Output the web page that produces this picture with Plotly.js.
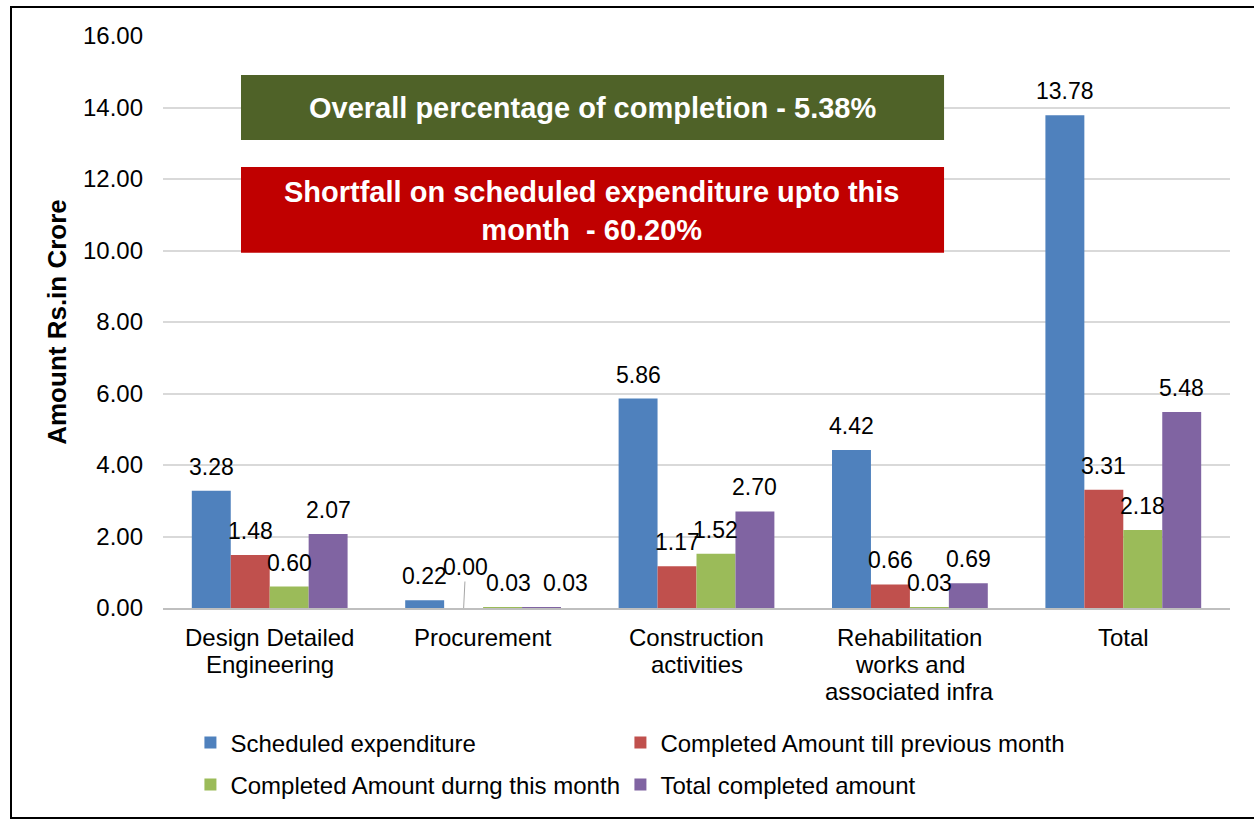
<!DOCTYPE html>
<html>
<head>
<meta charset="utf-8">
<script src="https://cdn.plot.ly/plotly-3.0.1.min.js"></script>
<style>
  html, body { margin: 0; padding: 0; background: #ffffff; overflow: hidden; }
  #wrap { position: relative; width: 1254px; height: 820px; overflow: hidden; }
  #chart { position: absolute; left: 0; top: 0; width: 1254px; height: 820px; }
  #frame { position: absolute; left: 10px; top: 6px; width: 1300px; height: 809px;
           border: 2px solid #000; pointer-events: none; }
</style>
</head>
<body>
<div id="wrap">
  <div id="chart"></div>
  <div id="frame"></div>
</div>
<script>
// ---------------- data ----------------
const categories = [
  'Design Detailed<br>Engineering',
  'Procurement',
  'Construction<br>activities',
  'Rehabilitation<br>works and<br>associated infra',
  'Total'
];
const seriesNames = [
  'Scheduled expenditure',
  'Completed Amount till previous month',
  'Completed Amount durng this month',
  'Total completed amount'
];
const scheduledExpenditure = [3.28, 0.22, 5.86, 4.42, 13.78];
const completedPrevMonth   = [1.48, 0.00, 1.17, 0.66, 3.31];
const completedThisMonth   = [0.60, 0.03, 1.52, 0.03, 2.18];
const totalCompleted       = [2.07, 0.03, 2.70, 0.69, 5.48];
const yTickValues = [0, 2, 4, 6, 8, 10, 12, 14, 16];
const bannerOverall = 'Overall percentage of completion - 5.38%';
const bannerShortfall = 'Shortfall on scheduled expenditure upto this<br>month  - 60.20%';
const yAxisTitle = 'Amount Rs.in Crore';

// ---------------- styles ----------------
const FONT = '"Liberation Sans", Arial, Helvetica, sans-serif';
const colors = ['#4F81BD', '#C0504D', '#9BBB59', '#8064A2'];
const allSeries = [scheduledExpenditure, completedPrevMonth, completedThisMonth, totalCompleted];
const legendIds = ['legend', 'legend2', 'legend3', 'legend4'];
const bargap = 0.27;
const barW = (1 - bargap) / allSeries.length;
// manual nudges of individual data labels (px), keyed "series,category"
const labelNudgeX = { '2,1': 6, '3,1': 24 };

const traces = allSeries.map((vals, s) => ({
  type: 'bar',
  name: seriesNames[s],
  x: categories,
  y: vals,
  marker: { color: colors[s], line: { width: 0 } },
  legend: legendIds[s],
  hoverinfo: 'skip'
}));

const annotations = [];

// data labels
allSeries.forEach((vals, s) => {
  const off = (s - (allSeries.length - 1) / 2) * barW;
  vals.forEach((v, i) => {
    if (v === 0) {
      annotations.push({
        x: i + off, y: v, xref: 'x', yref: 'y',
        text: v.toFixed(2), showarrow: true, arrowhead: 0, arrowwidth: 1,
        arrowcolor: '#A6A6A6', ax: 2, ay: -41, standoff: 0,
        font: { family: FONT, size: 23, color: '#000' }
      });
    } else {
      annotations.push({
        x: i + off, y: v, xref: 'x', yref: 'y',
        text: v.toFixed(2), showarrow: false,
        xanchor: 'center', yanchor: 'middle', yshift: 24,
        xshift: labelNudgeX[s + ',' + i] || 0,
        font: { family: FONT, size: 23, color: '#000' }
      });
    }
  });
});

// category labels (one annotation per line for tighter line spacing)
categories.forEach((c, i) => {
  c.split('<br>').forEach((line, k) => {
    annotations.push({
      x: i, y: 0, xref: 'x', yref: 'paper',
      text: line, showarrow: false,
      xanchor: 'center', yanchor: 'middle', yshift: -29 - k * 27,
      font: { family: FONT, size: 24, color: '#000' }
    });
  });
});

// banners text
annotations.push({
  x: 0.4025, y: 0.875, xref: 'paper', yref: 'paper',
  text: '<b>' + bannerOverall + '</b>', showarrow: false,
  xanchor: 'center', yanchor: 'middle',
  font: { family: FONT, size: 29, color: '#FFFFFF' }
});
annotations.push({
  x: 0.4025, y: 0.694, xref: 'paper', yref: 'paper',
  text: '<b>' + bannerShortfall.replace('<br>', '</b><br><b>') + '</b>', showarrow: false,
  xanchor: 'center', yanchor: 'middle',
  font: { family: FONT, size: 29, color: '#FFFFFF' }
});

const shapes = [
  { type: 'rect', xref: 'paper', yref: 'paper', x0: 0.0731, x1: 0.732, y0: 0.818, y1: 0.932,
    fillcolor: '#4F6228', line: { width: 0 }, layer: 'above' },
  { type: 'rect', xref: 'paper', yref: 'paper', x0: 0.0731, x1: 0.732, y0: 0.621, y1: 0.771,
    fillcolor: '#C00000', line: { width: 0 }, layer: 'above' }
];

const legendCommon = {
  orientation: 'h', xanchor: 'left', yanchor: 'middle',
  font: { family: FONT, size: 24, color: '#000' },
  bgcolor: 'rgba(0,0,0,0)', traceorder: 'normal'
};
const colX = [0.0257, 0.4287];
const rowY = [-0.236, -0.3094];

const layout = {
  width: 1254, height: 820,
  margin: { l: 163, r: 24, t: 36, b: 212 },
  paper_bgcolor: '#FFFFFF', plot_bgcolor: '#FFFFFF',
  barmode: 'group', bargap: bargap, bargroupgap: 0,
  font: { family: FONT, size: 24, color: '#000' },
  showlegend: true,
  legend:  Object.assign({}, legendCommon, { x: colX[0], y: rowY[0] }),
  legend2: Object.assign({}, legendCommon, { x: colX[1], y: rowY[0] }),
  legend3: Object.assign({}, legendCommon, { x: colX[0], y: rowY[1] }),
  legend4: Object.assign({}, legendCommon, { x: colX[1], y: rowY[1] }),
  xaxis: {
    type: 'category', showticklabels: false, ticks: '',
    showgrid: false, showline: true, linecolor: '#BFBFBF', linewidth: 2,
    fixedrange: true
  },
  yaxis: {
    range: [0, 16], tickvals: yTickValues, tickformat: '.2f',
    showgrid: true, gridcolor: '#D9D9D9', gridwidth: 2,
    zeroline: false, showline: false, ticks: '',
    ticklabelstandoff: 19,
    tickfont: { family: FONT, size: 24, color: '#000' },
    title: { text: '<b>' + yAxisTitle + '</b>', standoff: 8,
             font: { family: FONT, size: 26, color: '#000' } },
    automargin: false, fixedrange: true
  },
  annotations: annotations,
  shapes: shapes
};

Plotly.newPlot('chart', traces, layout, { displayModeBar: false, staticPlot: true });
</script>
</body>
</html>
